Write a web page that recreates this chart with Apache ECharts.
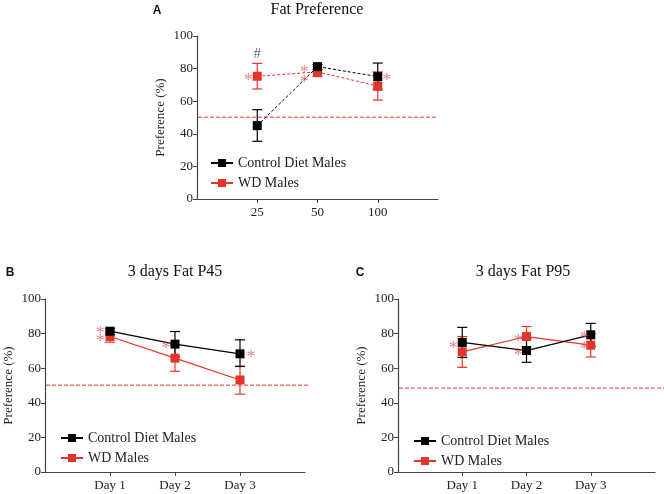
<!DOCTYPE html>
<html>
<head>
<meta charset="utf-8">
<style>
  html, body { margin: 0; padding: 0; background: #fff; }
  #chart { width: 664px; height: 494px; }
</style>
<script src="https://cdn.jsdelivr.net/npm/echarts@6/dist/echarts.min.js"></script>
</head>
<body>
<div id="chart"></div>
<script>
// x positions 1..3 on each panel, labels below
const labelsA = ['25', '50', '100']
const labelsDays = ['Day 1', 'Day 2', 'Day 3']

// Panel A - Fat Preference (mean, low, high)
const ctrlA = [45, 81.2, 75.1]
const ctrlA_lo = [35.4, 79.5, 67]
const ctrlA_hi = [54.8, 82.5, 83.4]
const wdA = [75.3, 78, 69.3]
const wdA_lo = [67.5, 75.1, 60.7]
const wdA_hi = [83.2, 81, 78]

// Panel B - 3 days Fat P45
const ctrlB = [81.4, 73.9, 68.3]
const ctrlB_lo = [79.5, 66.5, 61]
const ctrlB_hi = [83, 81.2, 76.4]
const wdB = [78.3, 65.8, 53.2]
const wdB_lo = [75, 58.2, 45]
const wdB_hi = [81.5, 73.5, 61.2]

// Panel C - 3 days Fat P95
const ctrlC = [74.9, 70.2, 79.3]
const ctrlC_lo = [66.2, 63.4, 72.7]
const ctrlC_hi = [83.6, 77, 85.9]
const wdC = [69.4, 78.3, 73.3]
const wdC_lo = [60.5, 72.5, 66.5]
const wdC_hi = [78.3, 84.1, 80.1]

// significance marks [x, y]
const starsA = [[0.85, 74.8], [1.78, 79.8], [1.78, 73.6], [3.15, 74.8]]
const hashA = [[1, 89]]
const starsB = [[0.85, 82], [0.85, 77.5], [1.86, 73.4], [3.17, 68.2]]
const starsC = [[0.86, 73.4], [1.87, 77.5], [1.87, 69.4], [2.9, 79.2], [2.9, 72.8]]

// 50% reference level per panel
const refA = 50.2
const refB = 50.2
const refC = 48.5

const RED = '#e5352b'
const BLACK = '#000'
const STAR = '#e8636b'
const SERIF = 'Liberation Serif'

function pts(arr) {
    return arr.map((v, i) => [i + 1, v])
}
function errs(lo, hi) {
    return lo.map((v, i) => [i + 1, v, hi[i]])
}

function errorBar(idx, lo, hi, color) {
    return {
        type: 'custom',
        xAxisIndex: idx,
        yAxisIndex: idx,
        z: 3,
        data: errs(lo, hi),
        renderItem(params, api) {
            const x = api.value(0)
            const p1 = api.coord([x, api.value(1)])
            const p2 = api.coord([x, api.value(2)])
            const w = 5
            const style = { stroke: color, lineWidth: 1.2 }
            return {
                type: 'group',
                children: [
                    { type: 'line', shape: { x1: p1[0], y1: p1[1], x2: p2[0], y2: p2[1] }, style },
                    { type: 'line', shape: { x1: p1[0] - w, y1: p1[1], x2: p1[0] + w, y2: p1[1] }, style },
                    { type: 'line', shape: { x1: p2[0] - w, y1: p2[1], x2: p2[0] + w, y2: p2[1] }, style }
                ]
            }
        }
    }
}

function lineSeries(idx, name, data, color, dashed) {
    return {
        type: 'line',
        name,
        xAxisIndex: idx,
        yAxisIndex: idx,
        data: pts(data),
        symbol: 'rect',
        symbolSize: 9,
        z: name === 'WD Males' ? 4 : 5,
        itemStyle: { color },
        lineStyle: { color, width: dashed ? 1 : 1.2, type: dashed ? [3, 2] : 'solid' }
    }
}

function marks(idx, data, text, color, size, dy) {
    return {
        type: 'scatter',
        xAxisIndex: idx,
        yAxisIndex: idx,
        symbolSize: 1,
        itemStyle: { color: 'rgba(0,0,0,0)' },
        silent: true,
        z: 6,
        data,
        label: {
            show: true,
            position: 'inside',
            offset: [0, dy],
            formatter: text,
            color,
            fontFamily: SERIF,
            fontSize: size
        }
    }
}

// ref lines live on their own (hidden) grids so they can run past the axis end
function refLine(idx, level) {
    return {
        type: 'line',
        xAxisIndex: idx,
        yAxisIndex: idx,
        data: [[0, level], [1, level]],
        symbol: 'none',
        silent: true,
        z: 1,
        lineStyle: { color: RED, width: 1, type: [4, 2] }
    }
}

const grids = [
    { left: 197, top: 36, width: 241, height: 163 },
    { left: 45, top: 299, width: 260, height: 173 },
    { left: 398, top: 299, width: 257, height: 173 },
    // ref line grids
    { left: 198, top: 36, width: 240, height: 163 },
    { left: 46, top: 299, width: 264, height: 173 },
    { left: 399, top: 299, width: 265, height: 173 }
]

const axisLine = { show: true, lineStyle: { color: '#444', width: 1.2 } }

function xAxis(idx, labels) {
    return {
        type: 'value',
        gridIndex: idx,
        min: 0,
        max: 4,
        interval: 1,
        splitLine: { show: false },
        axisLine,
        axisTick: { show: true, customValues: [1, 2, 3], length: 4, lineStyle: { color: '#444' } },
        axisLabel: {
            customValues: [1, 2, 3],
            formatter: v => labels[v - 1] || '',
            fontFamily: SERIF,
            fontSize: 13,
            color: '#222',
            margin: 7
        }
    }
}

function yAxis(idx) {
    return {
        type: 'value',
        gridIndex: idx,
        min: 0,
        max: 100,
        interval: 20,
        name: 'Preference (%)',
        nameLocation: 'middle',
        nameGap: 30,
        nameTextStyle: { fontFamily: SERIF, fontSize: 13, color: '#222' },
        splitLine: { show: false },
        axisLine,
        axisTick: { show: true, length: 4, lineStyle: { color: '#444' } },
        axisLabel: { fontFamily: SERIF, fontSize: 13, color: '#222', margin: 4 }
    }
}

function hiddenX(idx) {
    return { type: 'value', gridIndex: idx, min: 0, max: 1, show: false }
}
function hiddenY(idx) {
    return { type: 'value', gridIndex: idx, min: 0, max: 100, show: false }
}

function legend(left, top) {
    return {
        left,
        top,
        orient: 'vertical',
        itemWidth: 22,
        itemHeight: 10,
        itemGap: 6,
        data: ['Control Diet Males', 'WD Males'],
        lineStyle: { type: 'solid' },
        textStyle: { fontFamily: SERIF, fontSize: 14, color: '#222' },
        selectedMode: false
    }
}

function title(text, left, top, size, family, weight) {
    return {
        text,
        left,
        top,
        padding: 0,
        textAlign: 'center',
        textStyle: { fontFamily: family, fontSize: size, fontWeight: weight, color: '#111' }
    }
}

const option = {
    backgroundColor: '#fff',
    animation: false,
    title: [
        title('Fat Preference', 317, 2, 16, SERIF, 'normal'),
        title('A', 157, 5, 12, 'Liberation Sans', 'bold'),
        title('3 days Fat P45', 175, 264, 16, SERIF, 'normal'),
        title('B', 10, 267, 12, 'Liberation Sans', 'bold'),
        title('3 days Fat P95', 523, 264, 16, SERIF, 'normal'),
        title('C', 360, 267, 12, 'Liberation Sans', 'bold')
    ],
    legend: [legend(205, 151), legend(55, 426), legend(408, 429)],
    grid: grids,
    xAxis: [xAxis(0, labelsA), xAxis(1, labelsDays), xAxis(2, labelsDays), hiddenX(3), hiddenX(4), hiddenX(5)],
    yAxis: [yAxis(0), yAxis(1), yAxis(2), hiddenY(3), hiddenY(4), hiddenY(5)],
    series: [
        refLine(3, refA),
        errorBar(0, wdA_lo, wdA_hi, RED),
        errorBar(0, ctrlA_lo, ctrlA_hi, BLACK),
        lineSeries(0, 'WD Males', wdA, RED, true),
        lineSeries(0, 'Control Diet Males', ctrlA, BLACK, true),
        marks(0, starsA, '*', STAR, 18, 4),
        marks(0, hashA, '#', '#444', 15, 0),

        refLine(4, refB),
        errorBar(1, wdB_lo, wdB_hi, RED),
        errorBar(1, ctrlB_lo, ctrlB_hi, BLACK),
        lineSeries(1, 'WD Males', wdB, RED, false),
        lineSeries(1, 'Control Diet Males', ctrlB, BLACK, false),
        marks(1, starsB, '*', STAR, 18, 4),

        refLine(5, refC),
        errorBar(2, wdC_lo, wdC_hi, RED),
        errorBar(2, ctrlC_lo, ctrlC_hi, BLACK),
        lineSeries(2, 'WD Males', wdC, RED, false),
        lineSeries(2, 'Control Diet Males', ctrlC, BLACK, false),
        marks(2, starsC, '*', STAR, 18, 4)
    ]
}

const chart = echarts.init(document.getElementById('chart'))
chart.setOption(option)
</script>
</body>
</html>
